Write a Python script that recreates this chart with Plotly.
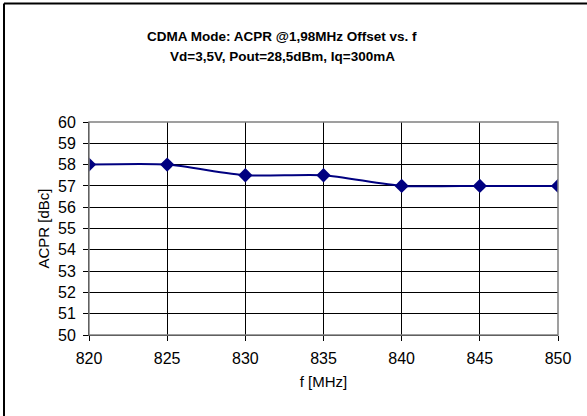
import plotly.graph_objects as go

freq = [820, 825, 830, 835, 840, 845, 850]
acpr = [58, 58, 57.5, 57.5, 57, 57, 57]
y_ticks = list(range(50, 61))
x_ticks = [820, 825, 830, 835, 840, 845, 850]

W, H = 587, 416
L, R, T, B = 89, 558, 122, 335
pw, ph = R - L, B - T

def px(x):
    return (x - L) / pw

def py(y):
    return (B - y) / ph

fig = go.Figure()
fig.add_trace(go.Scatter(
    x=freq, y=acpr, mode="lines+markers",
    line=dict(color="#000080", width=2, shape="spline", smoothing=0.6),
    marker=dict(symbol="diamond", size=11, color="#000080"),
    showlegend=False,
))

font = "Liberation Sans, Arial, sans-serif"
fig.update_layout(
    width=W, height=H,
    margin=dict(l=L, r=W - R, t=T, b=H - B),
    paper_bgcolor="white", plot_bgcolor="white",
    font=dict(family=font, color="black", size=16),
    xaxis=dict(range=[820, 850], tickvals=x_ticks, showgrid=True, gridcolor="black", gridwidth=1,
               showline=True, linecolor="black", linewidth=1, mirror=False, ticks="outside",
               ticklen=5, tickcolor="black", zeroline=False, tickfont=dict(size=16),
               ticklabelstandoff=4, automargin=False,
               title=dict(text="f [MHz]", font=dict(size=15), standoff=10)),
    yaxis=dict(range=[50, 60], tickvals=y_ticks, showgrid=True, gridcolor="black", gridwidth=1,
               showline=True, linecolor="black", linewidth=1, ticks="outside", ticklen=5,
               tickcolor="black", zeroline=False, tickfont=dict(size=16),
               ticklabelstandoff=4, automargin=False,
               title=dict(text="ACPR [dBc]", font=dict(size=15), standoff=4)),
    shapes=[
        dict(type="line", xref="paper", yref="paper", x0=px(4), x1=px(4), y0=py(416), y1=py(3.5),
             line=dict(color="black", width=2)),
        dict(type="line", xref="paper", yref="paper", x0=px(4), x1=px(587), y0=py(3.5), y1=py(3.5),
             line=dict(color="black", width=2)),
        dict(type="rect", xref="paper", yref="paper", x0=0, x1=1, y0=0, y1=1,
             line=dict(color="#808080", width=1.5), fillcolor="rgba(0,0,0,0)"),
    ],
    annotations=[
        dict(text="<b>CDMA Mode: ACPR @1,98MHz Offset vs. f</b>", xref="paper", yref="paper",
             x=px(282), y=py(27), showarrow=False, font=dict(size=13.5)),
        dict(text="<b>Vd=3,5V, Pout=28,5dBm, Iq=300mA</b>", xref="paper", yref="paper",
             x=px(282), y=py(47), showarrow=False, font=dict(size=13.5)),
    ],
)
fig.write_html(
    "out.html",
    config={"displayModeBar": False},
    post_script="document.body.style.margin='0';document.body.style.overflow='hidden';",
)
